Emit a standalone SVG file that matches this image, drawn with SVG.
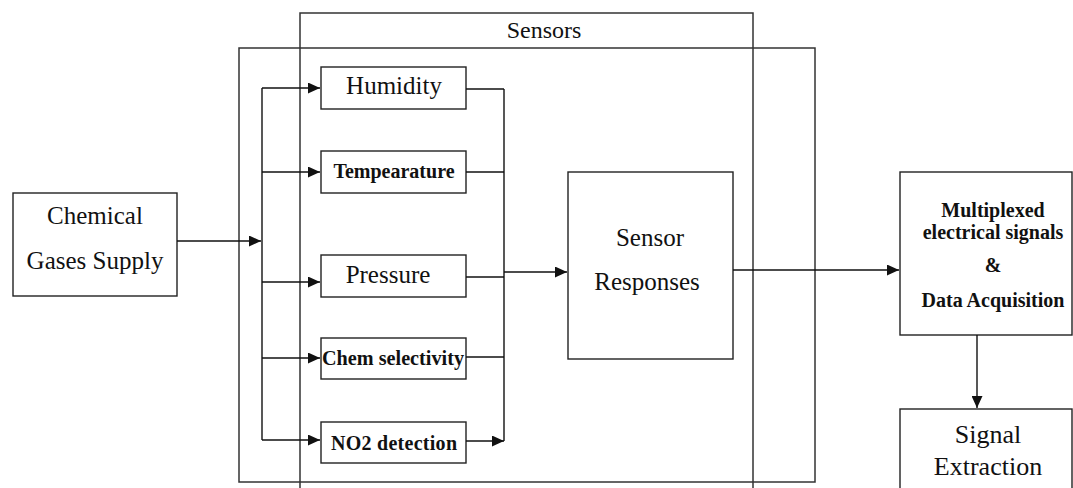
<svg xmlns="http://www.w3.org/2000/svg" width="1073" height="488" viewBox="0 0 1073 488">
  <defs>
    <marker id="arr" markerUnits="userSpaceOnUse" markerWidth="12" markerHeight="11" refX="12" refY="5.5" orient="auto">
      <path d="M0,0 L12,5.5 L0,11 z" fill="#111"/>
    </marker>
  </defs>
  <style>
    .box { fill: none; stroke: #222; stroke-width: 1.4; }
    .frame { fill: none; stroke: #333; stroke-width: 1.5; }
    .conn path { fill: none; stroke: #111; stroke-width: 1.4; }
    text { font-family: "Liberation Serif", "Times New Roman", serif; fill: #111; text-anchor: middle; }
    .reg { font-size: 25px; }
    .big { font-size: 26px; }
    .bold { font-size: 20px; font-weight: bold; }
  </style>
  <rect width="1073" height="488" fill="#fff"/>

  <g id="sensors-title">
    <rect class="frame" x="300" y="13" width="453" height="490"/>
    <text class="reg" x="544" y="38" style="font-size:24px">Sensors</text>
  </g>
  <g id="sensors-frame">
    <rect class="frame" x="239" y="48" width="576" height="434"/>
  </g>

  <g id="chemical">
    <rect class="box" x="13" y="193" width="164" height="103"/>
    <text class="reg" x="95" y="224">Chemical</text>
    <text class="reg" x="95" y="269">Gases Supply</text>
  </g>

  <g id="humidity">
    <rect class="box" x="321" y="67" width="145" height="42"/>
    <text class="reg" x="394" y="94">Humidity</text>
  </g>
  <g id="temperature">
    <rect class="box" x="321" y="151" width="145" height="42"/>
    <text class="bold" x="394" y="178">Tempearature</text>
  </g>
  <g id="pressure">
    <rect class="box" x="321" y="255" width="145" height="42"/>
    <text class="reg" x="388" y="283">Pressure</text>
  </g>
  <g id="chem-selectivity">
    <rect class="box" x="321" y="338" width="145" height="41"/>
    <text class="bold" x="393" y="365" textLength="142" lengthAdjust="spacingAndGlyphs">Chem selectivity</text>
  </g>
  <g id="no2">
    <rect class="box" x="321" y="422" width="145" height="41"/>
    <text class="bold" x="394" y="450" textLength="126">NO2 detection</text>
  </g>

  <g id="sensor-responses">
    <rect class="box" x="568" y="172" width="165" height="187"/>
    <text class="reg" x="650" y="246">Sensor</text>
    <text class="reg" x="647" y="290">Responses</text>
  </g>

  <g id="multiplexed">
    <rect class="box" x="900" y="172" width="172" height="163"/>
    <text class="bold" x="993" y="217">Multiplexed</text>
    <text class="bold" x="993" y="239">electrical signals</text>
    <text class="bold" x="993" y="272">&amp;</text>
    <text class="bold" x="993" y="307">Data Acquisition</text>
  </g>

  <g id="signal-extraction">
    <rect class="box" x="900" y="409" width="172" height="95"/>
    <text class="big" x="988" y="443">Signal</text>
    <text class="big" x="988" y="475">Extraction</text>
  </g>

  <g id="connectors" class="conn">
    <path d="M177,241 H261" marker-end="url(#arr)"/>
    <path d="M262,88 V440"/>
    <path d="M262,88 H320" marker-end="url(#arr)"/>
    <path d="M262,172 H320" marker-end="url(#arr)"/>
    <path d="M262,282 H320" marker-end="url(#arr)"/>
    <path d="M262,358 H320" marker-end="url(#arr)"/>
    <path d="M262,440 H320" marker-end="url(#arr)"/>
    <path d="M466,89 H504"/>
    <path d="M466,172 H504"/>
    <path d="M466,277 H504"/>
    <path d="M466,357 H504"/>
    <path d="M466,441 H504" marker-end="url(#arr)"/>
    <path d="M504,89 V441"/>
    <path d="M504,272 H567" marker-end="url(#arr)"/>
    <path d="M733,270 H899" marker-end="url(#arr)"/>
    <path d="M977,335 V408" marker-end="url(#arr)"/>
  </g>
</svg>
